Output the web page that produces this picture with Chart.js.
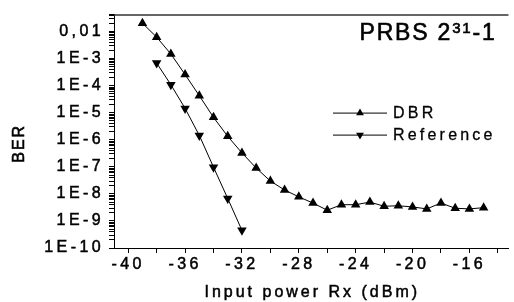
<!DOCTYPE html>
<html lang="en">
<head>
<meta charset="UTF-8">
<title>BER vs input power</title>
<style>
  body { margin: 0; background: #fff; }
</style>
</head>
<body>
<div style="width: 514px; height: 302px;">
  <canvas id="berChart"></canvas>
</div>

<script src="https://cdn.jsdelivr.net/npm/chart.js"></script>
<script>
  // input power Rx (dBm) and BER
  const powerDBR = [-39, -38, -37, -36, -35, -34, -33, -32, -31, -30, -29, -28, -27,
                    -26, -25, -24, -23, -22, -21, -20, -19, -18, -17, -16, -15];
  const berDBR = [2.07e-2, 6.3e-3, 1.5e-3, 2.6e-4, 4.3e-5, 6.8e-6, 1.35e-6, 3.3e-7, 9.1e-8,
                  3.0e-8, 1.4e-8, 7.8e-9, 4.6e-9, 2.5e-9, 4.0e-9, 4.0e-9, 5.0e-9, 3.5e-9,
                  3.65e-9, 3.3e-9, 2.8e-9, 4.6e-9, 2.95e-9, 2.8e-9, 3.1e-9];
  const powerRef = [-38, -37, -36, -35, -34, -33, -32];
  const berRef = [6.9e-4, 1.1e-4, 1.46e-5, 1.46e-6, 9.8e-8, 6.8e-9, 4.5e-10];

  const seriesNames = ['DBR', 'Reference'];
  const xTitle = 'Input power Rx (dBm)';
  const yTitle = 'BER';

  const FONT = '"Liberation Sans", Arial, sans-serif';

  function toPoints(xs, ys) {
    let pts = [];
    for (let i = 0; i < xs.length; i++) pts.push({ x: xs[i], y: ys[i] });
    return pts;
  }

  function drawTri(ctx, x, y, r, down) {
    let s = down ? -1 : 1;
    ctx.beginPath();
    ctx.moveTo(x, y - s * r);
    ctx.lineTo(x + r * 0.866, y + s * r * 0.5);
    ctx.lineTo(x - r * 0.866, y + s * r * 0.5);
    ctx.closePath();
    ctx.fill();
  }

  // filled text with a thin outline, the figure's text is a little heavy
  function heavyText(ctx, txt, x, y) {
    ctx.fillText(txt, x, y);
    ctx.strokeText(txt, x, y);
  }

  // frame on top, axis titles, legend and the PRBS note
  const decor = {
    id: 'decor',
    beforeDraw(chart) {
      chart.ctx.letterSpacing = '3.4px';
    },
    afterDraw(chart) {
      const ctx = chart.ctx;
      const a = chart.chartArea;
      ctx.save();
      ctx.strokeStyle = '#333';
      ctx.lineWidth = 1.5;
      ctx.beginPath();
      ctx.moveTo(a.left, a.top + 0.5);
      ctx.lineTo(a.right, a.top + 0.5);
      ctx.stroke();

      ctx.fillStyle = '#000';
      ctx.strokeStyle = '#000';

      // x axis title
      ctx.font = '16px ' + FONT;
      ctx.letterSpacing = '3px';
      ctx.textAlign = 'center';
      ctx.textBaseline = 'middle';
      ctx.lineWidth = 0.5;
      heavyText(ctx, xTitle, (a.left + a.right) / 2 + 1, chart.height - 9);

      // y axis title, a bit below the middle as in the figure
      ctx.save();
      ctx.translate(20, (a.top + a.bottom) / 2 + 13);
      ctx.rotate(-Math.PI / 2);
      ctx.letterSpacing = '2px';
      ctx.lineWidth = 0.6;
      heavyText(ctx, yTitle, 1, 0);
      ctx.restore();

      // legend
      ctx.font = '16px ' + FONT;
      ctx.textBaseline = 'middle';
      ctx.textAlign = 'left';
      ctx.letterSpacing = '3.2px';
      for (let i = 0; i < seriesNames.length; i++) {
        let ly = a.top + 98 + i * 22;
        ctx.lineWidth = 1;
        ctx.beginPath();
        ctx.moveTo(a.left + 219, ly + 0.5);
        ctx.lineTo(a.left + 273, ly + 0.5);
        ctx.stroke();
        drawTri(ctx, a.left + 246, ly + 0.5, 4.5, i == 1);
        ctx.lineWidth = 0.3;
        heavyText(ctx, seriesNames[i], a.left + 279, ly + 1);
      }

      // PRBS 2^31-1
      ctx.textBaseline = 'alphabetic';
      ctx.letterSpacing = '1.8px';
      ctx.lineWidth = 0.6;
      let big = '23px ' + FONT, small = '15px ' + FONT;
      ctx.font = big;
      let w1 = ctx.measureText('PRBS 2').width;
      let w3 = ctx.measureText('-1').width;
      ctx.font = small;
      let w2 = ctx.measureText('31').width;
      let x0 = a.right - 12 - (w1 + w2 + w3);
      let by = a.top + 25;
      ctx.font = big;
      heavyText(ctx, 'PRBS 2', x0, by);
      ctx.font = small;
      heavyText(ctx, '31', x0 + w1, by - 7);
      ctx.font = big;
      heavyText(ctx, '-1', x0 + w1 + w2, by);
      ctx.restore();
    }
  };

  const ctx = document.getElementById('berChart');

  new Chart(ctx, {
    type: 'line',
    data: {
      datasets: [{
        label: seriesNames[0],
        data: toPoints(powerDBR, berDBR),
        borderColor: '#000',
        borderWidth: 1,
        backgroundColor: '#000',
        pointStyle: 'triangle',
        pointRadius: 5.5,
        pointBorderWidth: 0,
        pointBackgroundColor: '#000'
      }, {
        label: seriesNames[1],
        data: toPoints(powerRef, berRef),
        borderColor: '#000',
        borderWidth: 1,
        backgroundColor: '#000',
        pointStyle: 'triangle',
        pointRotation: 180,
        pointRadius: 5.5,
        pointBorderWidth: 0,
        pointBackgroundColor: '#000'
      }]
    },
    options: {
      responsive: true,
      maintainAspectRatio: false,
      animation: false,
      layout: { padding: { top: 12, right: 0, bottom: 0, left: 0 } },
      plugins: {
        legend: { display: false },
        tooltip: { enabled: false }
      },
      scales: {
        x: {
          type: 'linear',
          min: -41,
          max: -13.25,
          afterFit: (scale) => { scale.height = 54; },
          border: { display: true, color: '#000', width: 1 },
          grid: { display: true, drawOnChartArea: false, drawTicks: true, tickLength: 5, color: '#000' },
          ticks: {
            stepSize: 2,
            includeBounds: false,
            autoSkip: false,
            maxRotation: 0,
            padding: 2,
            color: '#000',
            textStrokeColor: '#000',
            textStrokeWidth: 0.5,
            font: { family: FONT, size: 16 },
            callback: (v) => (v % 4 == 0 ? String(v) : '')
          },
          title: { display: false }
        },
        y: {
          type: 'logarithmic',
          min: 1e-10,
          max: 0.043,
          afterFit: (scale) => { scale.width = 114; },
          // keep only 1..9 x 10^n ticks (drops the 1.5 steps)
          afterBuildTicks: (scale) => {
            scale.ticks = scale.ticks.filter((t) => {
              let m = t.value / Math.pow(10, Math.floor(Math.log10(t.value) + 1e-9));
              return Math.abs(m - Math.round(m)) < 1e-6 || t.value == 0.043;
            });
          },
          border: { display: true, color: '#000', width: 1 },
          grid: { display: true, drawOnChartArea: false, drawTicks: true, tickLength: 5, color: '#000' },
          ticks: {
            autoSkip: false,
            padding: 5,
            color: '#000',
            textStrokeColor: '#000',
            textStrokeWidth: 0.5,
            font: { family: FONT, size: 16 },
            callback: function (v) {
              let e = Math.round(Math.log10(v));
              if (Math.abs(v / Math.pow(10, e) - 1) > 1e-6) return '';
              if (e == -2) return '0,01';
              return '1E' + e;
            }
          },
          title: { display: false }
        }
      }
    },
    plugins: [decor]
  });
</script>
</body>
</html>
